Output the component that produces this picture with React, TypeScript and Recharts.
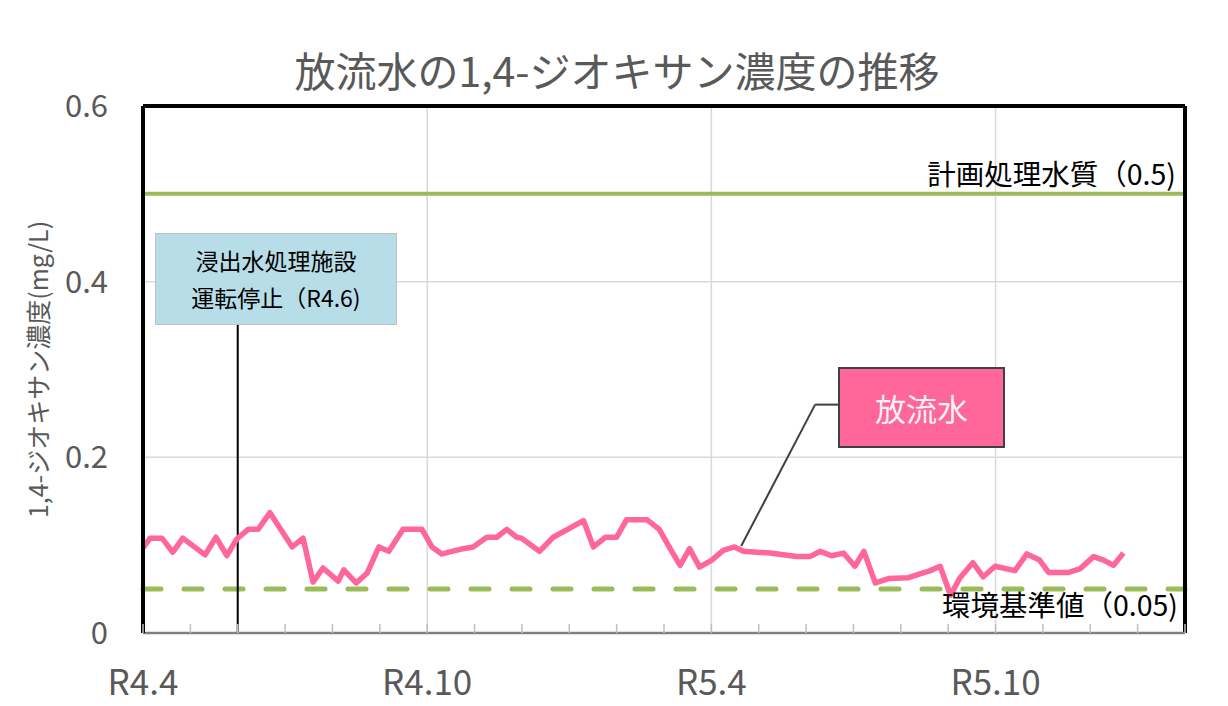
import { LineChart, Line, XAxis, YAxis, ReferenceLine } from 'recharts';

const MONTHS = [
  0, 0.15, 0.4, 0.63, 0.84, 1.31, 1.54, 1.77, 1.98, 2.22, 2.43, 2.68, 3.15, 3.38, 3.59, 3.8,
  4.12, 4.24, 4.5, 4.73, 4.98, 5.19, 5.49, 5.89, 6.1, 6.31, 6.76, 6.97, 7.26, 7.47, 7.68, 7.89,
  7.99, 8.37, 8.66, 9.3, 9.51, 9.76, 10.0, 10.21, 10.64, 10.9, 11.13, 11.34, 11.54, 11.75, 12.01,
  12.25, 12.49, 12.68, 13.24, 13.8, 14.08, 14.3, 14.54, 14.79, 15.03, 15.22, 15.46, 15.74, 16.16,
  16.62, 16.83, 17.05, 17.25, 17.52, 17.74, 17.99, 18.41, 18.66, 18.93, 19.12, 19.54, 19.78,
  20.07, 20.28, 20.49, 20.7,
];
const VALUES = [
  0.097, 0.108, 0.108, 0.092, 0.108, 0.089, 0.109, 0.088, 0.107, 0.118, 0.118, 0.137, 0.098,
  0.108, 0.058, 0.074, 0.059, 0.072, 0.057, 0.068, 0.098, 0.093, 0.118, 0.118, 0.098, 0.09,
  0.096, 0.098, 0.109, 0.109, 0.118, 0.109, 0.108, 0.093, 0.109, 0.128, 0.098, 0.109, 0.109,
  0.129, 0.129, 0.118, 0.096, 0.077, 0.096, 0.075, 0.083, 0.094, 0.098, 0.093, 0.091, 0.087,
  0.087, 0.093, 0.088, 0.091, 0.076, 0.093, 0.057, 0.062, 0.063, 0.071, 0.076, 0.043, 0.063,
  0.08, 0.064, 0.076, 0.071, 0.09, 0.083, 0.069, 0.069, 0.073, 0.087, 0.083, 0.077, 0.091,
];

const X_TICKS = [0, 1, 2, 3, 4, 5, 6, 7, 8, 9, 10, 11, 12, 13, 14, 15, 16, 17, 18, 19, 20, 21, 22];
const X_LABELS: Record<number, string> = { 0: 'R4.4', 6: 'R4.10', 12: 'R5.4', 18: 'R5.10' };
const Y_TICKS = [0, 0.2, 0.4, 0.6];
const V_GRID = [6, 12, 18];
const H_GRID = [0.2, 0.4];

const PLAN_QUALITY = 0.5;
const ENV_STANDARD = 0.05;
const STOP_MONTH = 2; // R4.6

const FONT = '"Noto Sans CJK JP", "Noto Sans", sans-serif';
const GRAY_TEXT = '#595959';
const PINK = '#ff6699';
const GREEN = '#9bbb59';

const data = MONTHS.map((m, i) => ({ m, v: VALUES[i] }));

const XTick = (props: any) => {
  const { x, y, payload } = props;
  const label = X_LABELS[payload.value];
  return (
    <g>
      <line x1={x} x2={x} y1={y} y2={y - 9} stroke="#bfbfbf" strokeWidth={1.5} />
      {label && (
        <text x={x} y={y + 62} textAnchor="middle" fill={GRAY_TEXT} fontSize={35} fontFamily={FONT}>
          {label}
        </text>
      )}
    </g>
  );
};

export default function App() {
  return (
    <div
      style={{
        position: 'relative',
        width: 1220,
        height: 698,
        margin: '-2px 0 0 -2px',
        borderLeft: '2px solid #d9d9d9',
        borderTop: '2px solid #d9d9d9',
        fontFamily: FONT,
        background: '#fff',
      }}
    >
      <div
        style={{
          position: 'absolute',
          left: 0,
          top: 38,
          width: 1218,
          textAlign: 'center',
          fontSize: 41,
          lineHeight: '46px',
          color: GRAY_TEXT,
        }}
      >
        放流水の1,4-ジオキサン濃度の推移
      </div>

      <LineChart width={1212} height={698} data={data} margin={{ top: 98, right: 35, bottom: 0, left: 0 }}>
        <XAxis
          type="number"
          dataKey="m"
          domain={[0, 22]}
          ticks={X_TICKS}
          interval={0}
          height={73}
          tickSize={0}
          tickMargin={0}
          tickLine={false}
          axisLine={{ stroke: '#7f7f7f', strokeWidth: 2.5 }}
          tick={<XTick />}
        />
        <YAxis
          type="number"
          domain={[0, 0.6]}
          ticks={Y_TICKS}
          width={135}
          tickSize={0}
          tickMargin={35}
          tickLine={false}
          axisLine={{ stroke: '#000', strokeWidth: 4 }}
          tickFormatter={(v: number) => (v === 0 ? '0' : v.toFixed(1))}
          tick={{ fontSize: 31, fill: GRAY_TEXT, fontFamily: FONT }}
          label={{
            value: '1,4-ジオキサン濃度(mg/L)',
            angle: -90,
            position: 'center',
            dx: -36,
            style: { fontSize: 25, fill: GRAY_TEXT, fontFamily: FONT },
          }}
        />

        {V_GRID.map((x) => (
          <ReferenceLine key={'v' + x} x={x} stroke="#d9d9d9" strokeWidth={1.5} />
        ))}
        {H_GRID.map((y) => (
          <ReferenceLine key={'h' + y} y={y} stroke="#d9d9d9" strokeWidth={1.5} />
        ))}

        <ReferenceLine
          y={PLAN_QUALITY}
          stroke={GREEN}
          strokeWidth={4}
          label={{
            value: '計画処理水質（0.5)',
            position: 'insideBottomRight',
            offset: 9,
            fill: '#000',
            fontSize: 28.5,
            fontFamily: FONT,
          }}
        />
        <ReferenceLine
          y={ENV_STANDARD}
          stroke={GREEN}
          strokeWidth={5}
          strokeDasharray="18 23"
          strokeLinecap="round"
          label={{
            value: '環境基準値（0.05)',
            position: 'insideTopRight',
            offset: 7,
            fill: '#000',
            fontSize: 28.5,
            fontFamily: FONT,
          }}
        />

        <ReferenceLine
          segment={[
            { x: STOP_MONTH, y: 0 },
            { x: STOP_MONTH, y: 0.36 },
          ]}
          stroke="#000"
          strokeWidth={2}
        />

        <Line
          type="linear"
          dataKey="v"
          stroke={PINK}
          strokeWidth={5.5}
          strokeLinejoin="round"
          dot={false}
          activeDot={false}
          isAnimationActive={false}
        />

        {/* callout leader for the 放流水 label */}
        <ReferenceLine
          segment={[
            { x: 12.63, y: 0.099 },
            { x: 14.19, y: 0.26 },
          ]}
          stroke="#404040"
          strokeWidth={2}
        />
        <ReferenceLine
          segment={[
            { x: 14.19, y: 0.26 },
            { x: 14.7, y: 0.26 },
          ]}
          stroke="#404040"
          strokeWidth={2}
        />

        {/* plot frame */}
        <ReferenceLine y={0.6} stroke="#000" strokeWidth={4} />
        <ReferenceLine x={22} stroke="#000" strokeWidth={4} />
      </LineChart>

      <div
        style={{
          position: 'absolute',
          left: 147,
          top: 225,
          width: 242,
          height: 92,
          boxSizing: 'border-box',
          background: '#b7dde8',
          border: '1.5px solid #bfbfbf',
          display: 'flex',
          flexDirection: 'column',
          justifyContent: 'center',
          alignItems: 'center',
          fontSize: 23,
          lineHeight: '37px',
          color: '#000',
        }}
      >
        <div>浸出水処理施設</div>
        <div>運転停止（R4.6)</div>
      </div>

      <div
        style={{
          position: 'absolute',
          left: 830,
          top: 359,
          width: 167,
          height: 81,
          boxSizing: 'border-box',
          background: PINK,
          border: '2.5px solid #404040',
          display: 'flex',
          justifyContent: 'center',
          alignItems: 'center',
          fontSize: 31,
          color: '#f2f2f2',
        }}
      >
        放流水
      </div>
    </div>
  );
}
